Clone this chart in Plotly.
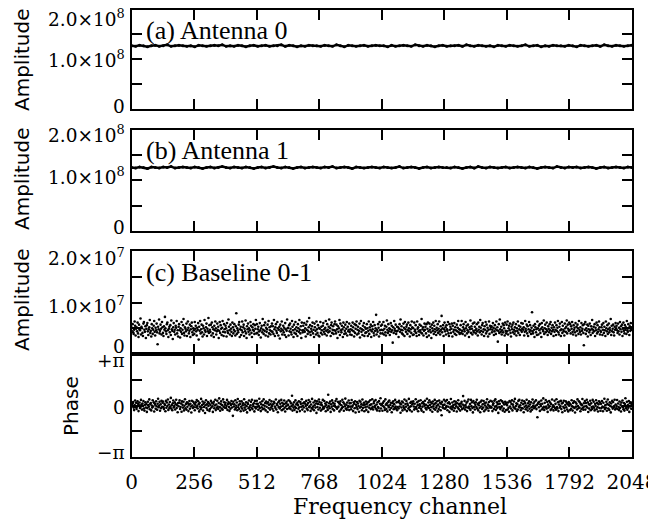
import numpy as np
import plotly.graph_objects as go

# channel ticks
x_ticks = [0, 256, 512, 768, 1024, 1280, 1536, 1792, 2048]

# (a) Antenna 0 amplitude, units of 1e6
ant0_amp = [
    127, 126, 128, 127, 125, 127, 128, 126, 127, 129, 126, 127, 128, 127, 126, 127,
    125, 128, 127, 126, 127, 128, 127, 129, 126, 127, 126, 128, 127, 125, 127, 128,
    126, 127, 128, 126, 127, 127, 129, 126, 128, 127, 125, 127, 126, 128, 127, 127,
    126, 128, 127, 126, 129, 127, 125, 128, 127, 126, 127, 128, 126, 127, 128, 127,
    127, 125, 128, 126, 127, 128, 127, 126, 129, 127, 126, 128, 127, 125, 127, 128,
    126, 127, 127, 128, 126, 129, 127, 126, 128, 127, 126, 127, 125, 128, 127, 126,
    128, 127, 126, 127, 129, 126, 127, 128, 125, 127, 126, 128, 127, 127, 126, 128,
    127, 125, 128, 127, 126, 127, 128, 126, 129, 127, 126, 128, 127, 126, 127, 128,
]

# (b) Antenna 1 amplitude, units of 1e6
ant1_amp = [
    125, 124, 126, 125, 123, 126, 125, 124, 126, 125, 127, 124, 125, 126, 125, 124,
    126, 125, 123, 125, 126, 124, 125, 127, 125, 124, 126, 125, 124, 126, 125, 123,
    125, 126, 124, 125, 127, 125, 124, 126, 125, 123, 125, 126, 124, 125, 126, 125,
    124, 126, 125, 127, 124, 125, 126, 125, 123, 126, 125, 124, 125, 126, 125, 124,
    126, 125, 124, 125, 127, 124, 125, 126, 125, 123, 125, 126, 124, 125, 126, 125,
    125, 124, 126, 125, 123, 125, 126, 124, 127, 125, 124, 126, 125, 124, 125, 126,
    124, 125, 126, 125, 124, 126, 125, 123, 125, 126, 125, 124, 127, 125, 124, 126,
    125, 126, 124, 125, 126, 125, 123, 125, 126, 124, 125, 126, 125, 124, 126, 125,
]

# (c) Baseline 0-1 amplitude, units of 1e5
base_amp = [
    45, 51, 58, 42, 39, 47, 63, 55, 36, 49, 52, 44, 61, 40, 33, 57, 48, 46, 69, 38, 53, 50, 41, 35, 59, 62, 47, 43, 54, 31, 49, 56,
    60, 44, 37, 48, 52, 66, 41, 45, 34, 58, 50, 39, 47, 55, 64, 43, 36, 51, 46, 59, 42, 19, 53, 48, 67, 40, 45, 57, 49, 38, 62, 52,
    41, 35, 54, 47, 72, 50, 44, 39, 58, 61, 46, 33, 49, 53, 42, 56, 37, 65, 48, 45, 29, 52, 60, 43, 47, 38, 55, 51, 64, 40, 46, 34,
    53, 58, 46, 32, 50, 43, 62, 39, 47, 56, 68, 41, 36, 52, 49, 44, 59, 35, 47, 63, 51, 40, 45, 57, 33, 48, 54, 61, 42, 37, 50, 46,
    39, 62, 49, 55, 44, 36, 51, 47, 60, 28, 53, 45, 64, 40, 48, 57, 42, 34, 55, 50, 38, 66, 46, 43, 52, 59, 35, 49, 44, 70, 41, 56,
    47, 43, 57, 36, 61, 52, 40, 48, 33, 55, 46, 63, 50, 38, 44, 59, 47, 53, 31, 45, 62, 41, 56, 49, 37, 51, 64, 43, 35, 58, 48, 42,
    55, 50, 34, 60, 45, 41, 67, 53, 46, 38, 57, 49, 43, 35, 61, 52, 40, 47, 58, 44, 36, 54, 79, 39, 50, 46, 42, 57, 62, 33, 48, 53,
    37, 46, 63, 42, 52, 57, 35, 49, 44, 65, 40, 31, 54, 48, 59, 43, 50, 38, 46, 62, 55, 41, 33, 52, 47, 58, 45, 39, 56, 49, 66, 40,
    58, 41, 48, 53, 37, 44, 60, 46, 32, 50, 55, 42, 68, 47, 39, 56, 45, 61, 36, 51, 43, 48, 57, 34, 64, 40, 52, 46, 38, 54, 44, 59,
    43, 54, 39, 66, 48, 35, 52, 58, 45, 41, 62, 50, 36, 47, 53, 30, 57, 44, 49, 63, 38, 46, 55, 42, 51, 37, 60, 48, 33, 45, 67, 50,
    51, 36, 56, 44, 59, 49, 42, 38, 64, 53, 46, 33, 57, 41, 48, 62, 39, 52, 45, 35, 58, 50, 43, 66, 47, 40, 54, 31, 61, 46, 42, 55,
    46, 60, 43, 50, 34, 57, 47, 63, 39, 45, 52, 70, 42, 56, 37, 49, 44, 54, 61, 40, 47, 33, 59, 52, 45, 38, 63, 48, 41, 56, 36, 51,
    34, 49, 62, 41, 53, 46, 38, 55, 60, 43, 48, 39, 51, 64, 45, 36, 58, 47, 42, 53, 67, 44, 50, 35, 56, 61, 41, 47, 54, 39, 46, 58,
    63, 45, 40, 57, 48, 31, 54, 43, 50, 66, 37, 59, 46, 42, 55, 48, 33, 61, 52, 39, 45, 57, 40, 49, 62, 36, 53, 44, 47, 59, 43, 38,
    48, 55, 37, 46, 61, 52, 44, 34, 58, 41, 49, 56, 63, 38, 47, 53, 40, 45, 59, 32, 50, 64, 43, 48, 37, 55, 46, 60, 35, 52, 41, 49,
    42, 58, 50, 35, 45, 63, 39, 52, 47, 57, 33, 44, 54, 48, 62, 41, 36, 56, 45, 50, 76, 38, 47, 43, 58, 51, 34, 62, 46, 40, 55, 47,
    57, 40, 46, 62, 38, 49, 55, 42, 36, 53, 65, 47, 41, 58, 44, 50, 37, 48, 60, 43, 55, 46, 22, 52, 41, 64, 49, 45, 57, 39, 44, 53,
    45, 52, 33, 49, 58, 43, 67, 47, 54, 40, 46, 38, 59, 51, 35, 62, 48, 43, 53, 57, 39, 46, 61, 50, 44, 34, 56, 48, 41, 63, 52, 37,
    50, 38, 61, 44, 47, 56, 41, 35, 63, 49, 52, 44, 37, 57, 46, 42, 55, 68, 40, 48, 52, 36, 45, 59, 47, 53, 40, 58, 33, 49, 61, 44,
    36, 59, 47, 53, 42, 31, 57, 50, 45, 61, 39, 55, 48, 43, 64, 37, 51, 46, 58, 41, 49, 63, 44, 38, 54, 47, 74, 42, 50, 56, 35, 48,
    61, 44, 52, 38, 56, 48, 45, 62, 40, 35, 58, 47, 53, 41, 49, 59, 34, 55, 43, 47, 60, 39, 52, 46, 37, 57, 44, 51, 64, 42, 48, 39,
    47, 56, 41, 64, 45, 39, 52, 58, 48, 44, 36, 62, 50, 55, 40, 46, 57, 43, 33, 52, 48, 65, 41, 54, 49, 38, 59, 45, 42, 61, 53, 46,
    40, 49, 58, 44, 36, 61, 47, 53, 42, 66, 51, 45, 38, 56, 60, 43, 48, 35, 54, 47, 62, 40, 57, 44, 51, 34, 47, 63, 39, 55, 48, 52,
    54, 42, 47, 60, 51, 37, 44, 56, 49, 39, 63, 46, 52, 24, 45, 58, 41, 67, 48, 43, 53, 38, 46, 59, 42, 56, 50, 36, 61, 45, 40, 57,
    44, 63, 38, 50, 55, 46, 59, 41, 34, 53, 48, 57, 42, 61, 47, 39, 52, 44, 58, 36, 50, 45, 63, 41, 55, 48, 37, 53, 46, 60, 43, 49,
    59, 47, 52, 36, 43, 64, 49, 45, 57, 40, 54, 35, 48, 62, 43, 56, 46, 39, 51, 81, 44, 40, 55, 47, 33, 58, 52, 42, 48, 37, 63, 50,
    38, 55, 46, 58, 41, 49, 33, 60, 52, 47, 44, 65, 39, 50, 57, 42, 48, 61, 45, 37, 54, 49, 42, 58, 46, 62, 39, 51, 44, 56, 47, 35,
    52, 43, 61, 47, 37, 56, 45, 51, 64, 42, 38, 53, 59, 46, 35, 48, 62, 41, 55, 47, 44, 36, 59, 50, 43, 53, 65, 40, 57, 49, 45, 61,
    46, 58, 40, 54, 49, 62, 43, 38, 56, 47, 51, 42, 60, 36, 53, 45, 57, 50, 39, 64, 47, 43, 52, 38, 60, 45, 49, 56, 41, 17, 58, 47,
    62, 39, 50, 45, 57, 34, 55, 48, 42, 59, 46, 37, 54, 49, 66, 41, 47, 53, 44, 58, 35, 51, 46, 61, 40, 56, 43, 48, 63, 52, 38, 45,
    43, 52, 57, 37, 47, 60, 41, 53, 46, 35, 63, 50, 44, 56, 39, 48, 59, 42, 51, 46, 68, 37, 55, 44, 49, 57, 42, 36, 53, 47, 60, 50,
    55, 46, 41, 59, 44, 51, 38, 62, 48, 54, 43, 57, 35, 49, 61, 45, 40, 56, 47, 52, 39, 64, 46, 43, 58, 50, 37, 54, 45, 60, 47, 52,
]

# (d) Baseline 0-1 phase, units of 0.01 rad
base_phase = [
    8, -3, 15, 22, -12, -27, 4, 31, -9, 17, -20, -6, 26, 11, -33, 2, 19, -14, -8, 35, 7, -24, 13, -2, 28, -17, -30, 5, 21, -11, 9, -38,
    -15, 24, 3, -7, 38, -22, 10, 16, -29, 1, -12, 33, -5, 20, -36, 14, 6, -19, 27, -4, -25, 12, 42, -10, -1, 23, -31, 8, -16, 30, -7, 18,
    25, -9, -21, 11, 4, -34, 29, -13, 19, -2, 37, -26, 7, -15, 22, -6, 47, -18, 3, -28, 14, 31, -11, -3, 20, -23, 9, 36, -14, 2, -40, 16,
    -4, 17, 32, -20, -8, 13, -37, 26, 5, -12, 24, -29, -1, 39, -16, 10, -24, 21, -7, 15, -33, 6, 28, -19, 12, -5, -42, 30, 1, -14, 23, -9,
    13, -28, 6, 20, -10, 34, -3, -17, 27, 9, -35, 16, -6, -22, 41, -12, 4, 25, -30, 11, -8, 19, -45, 2, 33, -15, 8, -26, 22, -2, 14, -32,
    -21, 5, 29, -11, 18, -4, -38, 12, 24, -16, 1, 36, -27, 7, -13, 30, -6, -20, 16, 44, -9, -31, 10, 26, -18, 3, -25, 38, -7, 21, -12, 6,
    18, -14, -2, 35, -26, 9, 22, -8, -32, 15, -19, 4, 28, -11, 12, -62, 24, -5, 8, -23, 33, -15, -1, 19, -28, 40, -10, 5, -20, 27, 11, -34,
    -7, 26, -18, 3, 14, -30, 39, -12, 6, -24, 21, -3, -41, 17, 10, -16, 31, -8, -27, 2, 23, -13, 36, -21, 7, -4, 15, -35, 29, -9, -17, 12,
    30, -6, 11, -25, -3, 42, -15, 19, -33, 8, -10, 27, -22, 4, 38, -18, -1, 16, -29, 25, -7, 13, -39, 20, -14, 5, 34, -24, 9, -11, 26, -2,
    -19, 8, -31, 23, 16, -5, -14, 37, -23, 10, 2, -40, 21, -9, 29, -17, 12, -6, 35, -28, 18, -2, -22, 9, 31, -13, -36, 14, -4, 24, -20, 7,
    4, 33, -16, -8, 25, -21, 14, -3, 60, -30, 6, -12, 20, -26, -5, 32, -14, 9, -38, 17, 3, -19, 27, -10, -33, 22, 11, -7, 39, -24, -1, 15,
    -11, 20, -36, 12, -2, 29, -18, 5, -27, 16, 34, -10, -4, 24, -32, 7, -15, 41, -20, -6, 19, -28, 2, 30, -12, 13, -44, 26, -8, 10, -23, 37,
    22, -13, 7, -30, 18, 3, -22, 35, -9, -17, 28, -5, 13, -34, 4, 21, -11, -26, 66, -3, 15, -16, 25, -38, 8, -7, 32, -20, 17, -1, -29, 11,
    -3, 28, -10, 40, -19, -12, 23, -6, 17, -35, 9, 26, -24, 2, -15, 36, -8, 20, -31, 12, -4, 43, -18, 6, -25, 19, -11, -2, 31, -27, 14, -6,
    16, -22, 34, -7, 1, -33, 20, 11, -16, 27, -42, 5, -9, 22, -21, 13, -2, -37, 29, -12, 24, -6, 9, -28, 37, -15, 3, 18, -34, 6, -10, 25,
    -26, 11, -5, 19, -38, 24, -13, 3, 33, -21, 8, -16, 39, -7, -23, 15, 26, -10, -1, 34, -19, 7, -29, 21, -8, -14, 28, -32, 12, 45, -17, 2,
    10, -31, 17, -4, 27, -12, -26, 38, 6, -20, 14, -35, 1, 23, -9, 31, -25, 4, 18, -14, -40, 16, -3, 26, -22, 9, -13, 35, -6, -19, 20, -28,
    -8, 22, -17, 30, -5, 14, -43, 8, -11, 25, -29, 19, -2, -15, 37, -23, 10, -7, 29, -33, 13, 2, -18, 41, -10, -27, 17, -4, 24, -36, 7, 15,
    27, -5, -24, 12, -16, 39, -8, -21, 20, 3, -34, 28, -13, 8, -3, 33, -19, -30, 14, -6, 22, -39, 11, -1, 30, -15, 5, -23, 42, -11, -2, 19,
    -14, 32, 4, -27, 21, -9, 13, -37, 25, -4, -18, 9, 35, -25, 16, -12, -1, 27, -35, 6, -20, 31, -7, 18, -28, 12, -58, 23, -9, 3, -16, 36,
    6, -19, 26, -11, -3, 34, -28, 15, -7, 21, -38, 11, -14, 40, -5, -22, 19, -9, 3, -31, 27, -16, 8, 24, -4, -36, 15, -12, 33, -20, 9, -2,
    -30, 13, -6, 23, -21, 7, 58, -15, -1, 29, -24, 4, -10, 18, -33, 25, -12, 37, -6, -17, 10, -26, 35, -3, 20, -14, -41, 28, -8, 16, -23, 5,
    21, -8, 36, -18, 11, -29, 2, 17, -13, -40, 24, -5, 31, -20, 8, -11, 28, -34, 14, 1, -24, 19, -9, 39, -16, 6, -31, 22, -3, -12, 30, -7,
    -12, 25, -33, 5, 15, -20, 30, -6, 38, -26, -3, 20, -15, 9, -44, 27, -8, 12, -21, 33, -11, -4, 26, -30, 17, -18, 7, -37, 23, 11, -27, 18,
    3, -24, 19, -13, -37, 28, -5, 22, -17, 10, 33, -29, 6, -8, 25, -14, 41, -19, -2, 15, -32, 9, -23, 29, -6, 35, -11, 2, -28, 18, -15, 31,
    -17, 9, -40, 27, -7, 16, -22, 1, 36, -12, -30, 14, -4, 26, -19, 7, -35, 20, -10, -25, 37, -3, 13, -16, 24, -9, -1, 32, -21, 4, -71, 12,
    19, -10, 24, -32, 8, -2, 31, -23, 12, -15, 44, -7, -26, 17, -11, 34, -5, -18, 23, -38, 6, -12, 28, -4, 19, -27, 10, -20, 37, -8, 2, -29,
    -6, 30, -14, 11, -25, 39, -9, -17, 21, -33, 7, 25, -12, -3, 29, -21, 13, -40, 18, -7, 30, -15, -31, 4, 26, -10, 17, -24, 8, -35, 22, -1,
    14, -27, 7, -19, 33, -4, -30, 16, -9, 26, -14, -42, 20, -6, 12, -23, 38, -2, -16, 27, -11, 19, -34, 9, -20, 3, 40, -13, -25, 15, -5, 28,
    -24, 16, -3, 36, -12, 21, -39, 10, -18, 4, 30, -28, 14, -8, -20, 35, -5, 24, -13, -29, 11, -1, 33, -22, 16, -9, -36, 8, 27, -14, 19, -31,
    11, -15, 28, -6, -34, 18, -10, 42, -21, 3, -13, 24, -31, 9, 37, -17, 5, -26, 20, -2, -41, 13, -7, 29, -18, 22, -11, -3, 36, -23, 7, -16,
    -2, 34, -20, 13, -8, -27, 25, -14, 6, -36, 19, -4, 31, -10, -22, 16, -30, 10, 45, -16, -7, 23, -25, 3, -13, 28, -38, 15, -5, 21, -19, 9,
]

panel_labels = ["(a) Antenna 0", "(b) Antenna 1", "(c) Baseline 0-1"]

# y tick labels as printed, with where they sit on screen
ytick_labels = [
    ("2.0×10<sup>8</sup>", 20.5), ("1.0×10<sup>8</sup>", 61), ("0", 106),
    ("2.0×10<sup>8</sup>", 136), ("1.0×10<sup>8</sup>", 178), ("0", 227.5),
    ("2.0×10<sup>7</sup>", 259), ("1.0×10<sup>7</sup>", 307), ("0", 346),
    ("+π", 360), ("0", 407.5), ("−π", 452),
]

# the page body has an 8px margin, so the figure is 8px smaller and everything is placed 8px up/left
OFF = 8
W, H = 656 - OFF, 520 - OFF

def px_x(sx):
    return (sx - OFF) / W

def px_y(sy):
    return 1 - (sy - OFF) / H

x0, x1 = px_x(131.7), px_x(632.0)
# panel top/bottom in screen pixels
panels_px = [(9.5, 109.0), (129.5, 231.0), (251.0, 354.0), (354.0, 457.3)]
domains = [[px_y(b), px_y(t)] for t, b in panels_px]

ch_ant = np.linspace(0, 2047, len(ant0_amp))
ch_base = np.linspace(0, 2047, len(base_amp))

fig = go.Figure()
fig.add_trace(go.Scatter(x=ch_ant, y=np.array(ant0_amp) * 1e6, mode="lines+markers",
                         line=dict(color="black", width=2.5), marker=dict(color="black", size=3),
                         xaxis="x", yaxis="y"))
fig.add_trace(go.Scatter(x=ch_ant, y=np.array(ant1_amp) * 1e6, mode="lines+markers",
                         line=dict(color="black", width=2.5), marker=dict(color="black", size=3),
                         xaxis="x2", yaxis="y2"))
fig.add_trace(go.Scatter(x=ch_base, y=np.array(base_amp) * 1e5, mode="markers",
                         marker=dict(color="black", size=2.6), xaxis="x3", yaxis="y3"))
fig.add_trace(go.Scatter(x=ch_base, y=np.array(base_phase) / 100.0, mode="markers",
                         marker=dict(color="black", size=2.6), xaxis="x4", yaxis="y4"))

tick_font = dict(family="DejaVu Serif", size=18.5, color="black")

def xaxis_cfg(i, labels):
    return dict(domain=[x0, x1], anchor="y" if i == 1 else "y%d" % i, range=[0, 2048],
                tickvals=x_ticks, showline=True, linewidth=2, linecolor="black", mirror="ticks",
                ticks="inside", ticklen=10, tickwidth=1.5, tickcolor="black",
                showgrid=False, zeroline=False, showticklabels=labels, automargin=False,
                ticklabelstandoff=6, ticklabeloverflow="allow",
                tickfont=dict(family="DejaVu Serif", size=20, color="black"))

def yaxis_cfg(i, rng, vals):
    return dict(domain=domains[i - 1], anchor="x" if i == 1 else "x%d" % i, range=rng,
                tickvals=vals, showline=True, linewidth=2, linecolor="black",
                mirror="ticks", ticks="inside", ticklen=10, tickwidth=1.5, tickcolor="black",
                showgrid=False, zeroline=False, showticklabels=False, automargin=False)

fig.update_layout(
    width=W, height=H,
    margin=dict(l=0, r=0, t=0, b=0),
    paper_bgcolor="white", plot_bgcolor="white",
    showlegend=False,
    xaxis=xaxis_cfg(1, False), xaxis2=xaxis_cfg(2, False),
    xaxis3=xaxis_cfg(3, False), xaxis4=xaxis_cfg(4, True),
    yaxis=yaxis_cfg(1, [0, 2e8], [0, 5e7, 1e8, 1.5e8, 2e8]),
    yaxis2=yaxis_cfg(2, [0, 2e8], [0, 5e7, 1e8, 1.5e8, 2e8]),
    yaxis3=yaxis_cfg(3, [0, 2e7], [0, 5e6, 1e7, 1.5e7, 2e7]),
    yaxis4=yaxis_cfg(4, [-np.pi, np.pi], [-np.pi, -np.pi / 2, 0, np.pi / 2, np.pi]),
)

# y tick labels
for txt, sy in ytick_labels:
    ya = "bottom" if "sup" in txt else "middle"
    fig.add_annotation(text=txt, xref="paper", yref="paper", x=px_x(127),
                       y=px_y(sy + 12) if ya == "bottom" else px_y(sy),
                       xanchor="right", yanchor=ya, showarrow=False, font=tick_font)

# panel labels
for i, lab in enumerate(panel_labels):
    top = panels_px[i][0]
    fig.add_annotation(text=lab, xref="paper", yref="paper", x=px_x(144), y=px_y(top + 21),
                       xanchor="left", yanchor="middle", showarrow=False,
                       font=dict(family="Liberation Serif", size=26, color="black"))

# y titles
for ycen in [60, 179, 300]:
    fig.add_annotation(text="Amplitude", xref="paper", yref="paper", x=px_x(22), y=px_y(ycen),
                       xanchor="center", yanchor="middle", textangle=-90, showarrow=False,
                       font=dict(family="DejaVu Sans", size=20, color="black"))
fig.add_annotation(text="Phase", xref="paper", yref="paper", x=px_x(71), y=px_y(406),
                   xanchor="center", yanchor="middle", textangle=-90, showarrow=False,
                   font=dict(family="DejaVu Sans", size=20, color="black"))

fig.add_annotation(text="Frequency channel", xref="paper", yref="paper", x=px_x(400), y=px_y(506),
                   xanchor="center", yanchor="middle", showarrow=False,
                   font=dict(family="DejaVu Serif", size=22, color="black"))

fig.write_html("out.html")
